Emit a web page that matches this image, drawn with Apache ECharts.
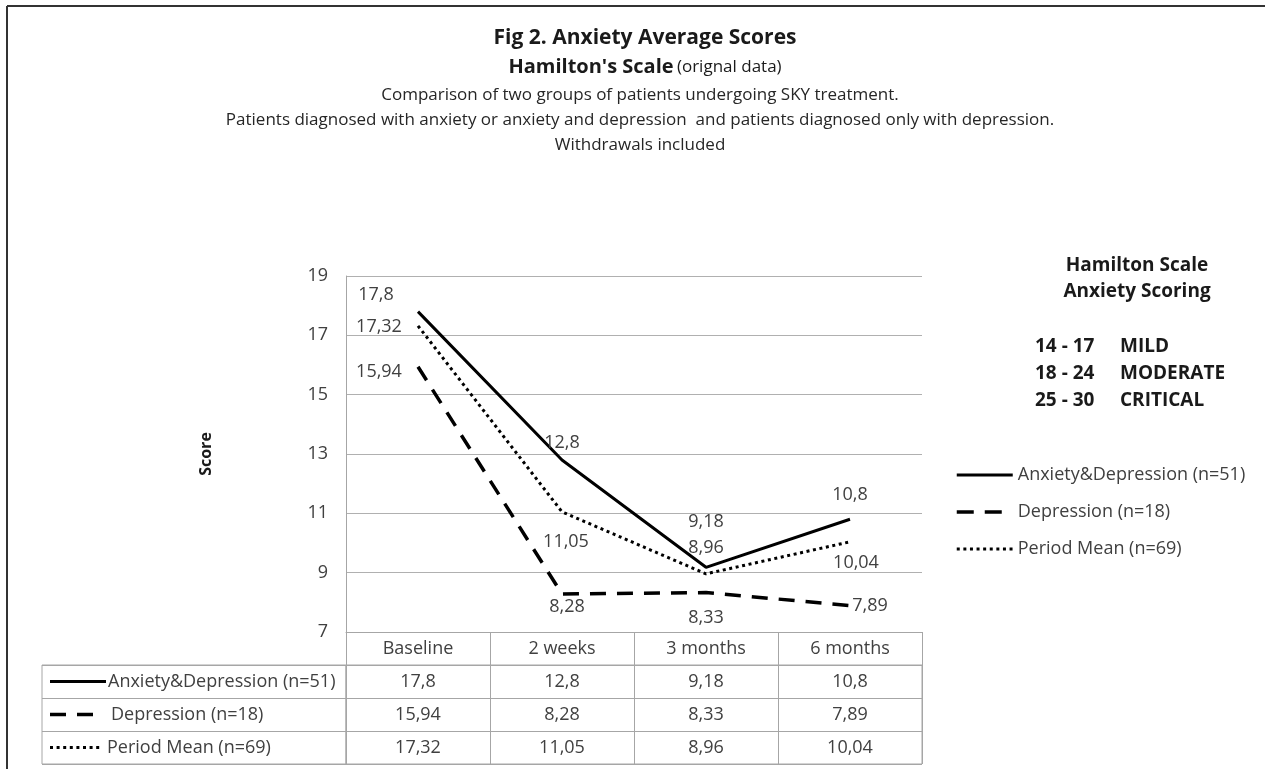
<!DOCTYPE html>
<html>
<head>
<meta charset="utf-8">
<script src="https://cdn.jsdelivr.net/npm/echarts@6/dist/echarts.min.js"></script>
<style>html,body{margin:0;padding:0;background:#fff}#c{width:1265px;height:769px}</style>
</head>
<body>
<div id="c"></div>
<script>
var categories = ['Baseline', '2 weeks', '3 months', '6 months'];
var seriesNames = ['Anxiety&Depression (n=51)', 'Depression (n=18)', 'Period Mean (n=69)'];
var anxDep = [17.8, 12.8, 9.18, 10.8];
var depression = [15.94, 8.28, 8.33, 7.89];
var periodMean = [17.32, 11.05, 8.96, 10.04];
var yTicks = { min: 7, max: 19, interval: 2 };
var scoringRanges = ['14 - 17', '18 - 24', '25 - 30'];
var scoringLevels = ['MILD', 'MODERATE', 'CRITICAL'];

var FONT = '"Open Sans", sans-serif';
var TXT = '#404040';
var DARK = '#1a1a1a';
var GRIDC = '#b0b0b0';
var BORDER = '#a6a6a6';

var allValues = [anxDep, depression, periodMean];
var lineTypes = [
  { color: '#000', width: 3, type: 'solid' },
  { color: '#000', width: 3.5, type: [16, 11] },
  { color: '#000', width: 3, type: [3, 3.6] }
];
var legendLineTypes = [
  { color: '#000', width: 3, type: 'solid' },
  { color: '#000', width: 3.5, type: [17, 11] },
  { color: '#000', width: 3, type: [3, 3.6] }
];
var labelOffsets = [
  [[-42, -17], [0, -17], [0, -45], [0, -24]],
  [[-39, 5], [5, 13], [0, 25], [20, 0]],
  [[-39, 1], [4, 30], [0, -26], [6, 21]]
];
// legend-column sample layout: [lineStart, lineEnd, textStart] in px from table's left edge
var legendColLayout = [[8, 64, 66], [8, 51, 69], [8, 58, 65]];
function fmt(v) { return String(v).replace('.', ','); }

var lineSeries = allValues.map(function (vals, s) {
  return {
    name: seriesNames[s],
    type: 'line',
    xAxisIndex: 0, yAxisIndex: 0,
    symbol: 'circle', symbolSize: 2,
    itemStyle: { color: 'rgba(0,0,0,0)' },
    lineStyle: lineTypes[s],
    z: 3 - s,
    label: {
      show: true, position: 'inside', color: TXT, fontFamily: FONT, fontSize: 18,
      formatter: function (p) { return fmt(p.value); }
    },
    data: vals.map(function (v, i) {
      return { value: v, label: { offset: labelOffsets[s][i] } };
    }),
    animation: false
  };
});

var tableData = [];
allValues.forEach(function (vals, r) {
  vals.forEach(function (v, c) { tableData.push([c, r, fmt(v)]); });
});

var tableSeries = {
  type: 'custom', xAxisIndex: 1, yAxisIndex: 1,
  data: tableData,
  renderItem: function (params, api) {
    var pt = api.coord([api.value(0), api.value(1)]);
    return {
      type: 'text',
      style: { text: tableData[params.dataIndex][2], x: pt[0], y: pt[1], textAlign: 'center', textVerticalAlign: 'middle',
        font: '18px ' + FONT, fill: TXT }
    };
  },
  animation: false
};

var legendRows = seriesNames.map(function (n, r) { return [0, r]; });
var legendColSeries = {
  type: 'custom', xAxisIndex: 2, yAxisIndex: 2,
  data: legendRows,
  renderItem: function (params, api) {
    var r = params.dataIndex;
    var L = legendColLayout[r];
    var a = api.coord([L[0], r]);
    var b = api.coord([L[1], r]);
    var t = api.coord([L[2], r]);
    var ls = lineTypes[r];
    return {
      type: 'group',
      children: [
        { type: 'line', shape: { x1: a[0], y1: a[1], x2: b[0], y2: b[1] },
          style: { stroke: '#000', lineWidth: ls.width, lineDash: ls.type === 'solid' ? null : ls.type } },
        { type: 'text', style: { text: seriesNames[r], x: t[0], y: t[1], textAlign: 'left', textVerticalAlign: 'middle',
          font: '18px ' + FONT, fill: TXT } }
      ]
    };
  },
  animation: false
};

var graphics = [
  { type: 'line', shape: { x1: 7, y1: 6, x2: 1265, y2: 6 }, style: { stroke: '#333', lineWidth: 2 } },
  { type: 'line', shape: { x1: 7, y1: 6, x2: 7, y2: 769 }, style: { stroke: '#333', lineWidth: 2 } },
  { type: 'text', x: 645, y: 38, style: { text: 'Fig 2. Anxiety Average Scores', textAlign: 'center', textVerticalAlign: 'middle', font: 'bold 21px ' + FONT, fill: DARK } },
  { type: 'text', x: 645, y: 67, style: { text: "{b|Hamilton's Scale} {n|(orignal data)}", textAlign: 'center', textVerticalAlign: 'middle',
    rich: { b: { font: 'bold 20px ' + FONT, fill: DARK }, n: { font: '17px ' + FONT, fill: DARK } } } },
  { type: 'text', x: 640, y: 95, style: { text: 'Comparison of two groups of patients undergoing SKY treatment.', textAlign: 'center', textVerticalAlign: 'middle', font: '17px ' + FONT, fill: '#262626' } },
  { type: 'text', x: 640, y: 120, style: { text: 'Patients diagnosed with anxiety or anxiety and depression  and patients diagnosed only with depression.', textAlign: 'center', textVerticalAlign: 'middle', font: '17px ' + FONT, fill: '#262626' } },
  { type: 'text', x: 640, y: 145, style: { text: 'Withdrawals included', textAlign: 'center', textVerticalAlign: 'middle', font: '17px ' + FONT, fill: '#262626' } },
  { type: 'text', x: 1137, y: 266, style: { text: 'Hamilton Scale', textAlign: 'center', textVerticalAlign: 'middle', font: 'bold 19px ' + FONT, fill: DARK } },
  { type: 'text', x: 1137, y: 292, style: { text: 'Anxiety Scoring', textAlign: 'center', textVerticalAlign: 'middle', font: 'bold 19px ' + FONT, fill: DARK } }
];
scoringRanges.forEach(function (rg, i) {
  graphics.push({ type: 'text', x: 1035, y: 347 + i * 27, style: { text: rg, textAlign: 'left', textVerticalAlign: 'middle', font: 'bold 19px ' + FONT, fill: DARK } });
  graphics.push({ type: 'text', x: 1120, y: 347 + i * 27, style: { text: scoringLevels[i], textAlign: 'left', textVerticalAlign: 'middle', font: 'bold 19px ' + FONT, fill: DARK } });
});

var chart = echarts.init(document.getElementById('c'), null, { renderer: 'canvas' });
chart.setOption({
  backgroundColor: '#fff',
  animation: false,
  textStyle: { fontFamily: FONT },
  legend: {
    orient: 'vertical', left: 955, top: 466, itemWidth: 56, itemHeight: 18, itemGap: 19, padding: 0,
    data: seriesNames.map(function (n, i) { return { name: n, lineStyle: legendLineTypes[i] }; }),
    textStyle: { fontSize: 18, color: TXT, fontFamily: FONT }
  },
  grid: [
    { left: 346, top: 276, width: 576, height: 356 },
    { left: 346, top: 665, width: 576, height: 99, show: true, borderColor: BORDER, borderWidth: 1 },
    { left: 42, top: 665, width: 304, height: 99, show: true, borderColor: BORDER, borderWidth: 1 }
  ],
  xAxis: [
    { type: 'category', gridIndex: 0, data: categories, boundaryGap: true,
      axisLine: { lineStyle: { color: BORDER, width: 1 } },
      axisTick: { show: true, length: 33, lineStyle: { color: BORDER } },
      axisLabel: { margin: 8, fontSize: 18, color: TXT, fontFamily: FONT } },
    { type: 'category', gridIndex: 1, data: categories, boundaryGap: true,
      axisLine: { show: false }, axisTick: { show: false }, axisLabel: { show: false },
      splitLine: { show: true, lineStyle: { color: BORDER } } },
    { type: 'value', gridIndex: 2, min: 0, max: 304, show: false }
  ],
  yAxis: [
    { type: 'value', gridIndex: 0, min: yTicks.min, max: yTicks.max, interval: yTicks.interval,
      axisLine: { show: true, lineStyle: { color: BORDER } },
      axisTick: { show: false },
      splitLine: { show: true, lineStyle: { color: GRIDC } },
      axisLabel: { margin: 18, fontSize: 18, color: TXT, fontFamily: FONT },
      name: 'Score', nameLocation: 'middle', nameGap: 132, nameRotate: 90,
      nameTextStyle: { fontWeight: 'bold', fontSize: 16, color: DARK, fontFamily: FONT } },
    { type: 'category', gridIndex: 1, data: ['r0', 'r1', 'r2'], inverse: true,
      axisLine: { show: false }, axisTick: { show: false }, axisLabel: { show: false },
      splitLine: { show: true, lineStyle: { color: BORDER } } },
    { type: 'category', gridIndex: 2, data: ['r0', 'r1', 'r2'], inverse: true,
      axisLine: { show: false }, axisTick: { show: false }, axisLabel: { show: false },
      splitLine: { show: true, lineStyle: { color: BORDER } } }
  ],
  graphic: graphics,
  series: lineSeries.concat([tableSeries, legendColSeries])
});
</script>
</body>
</html>
